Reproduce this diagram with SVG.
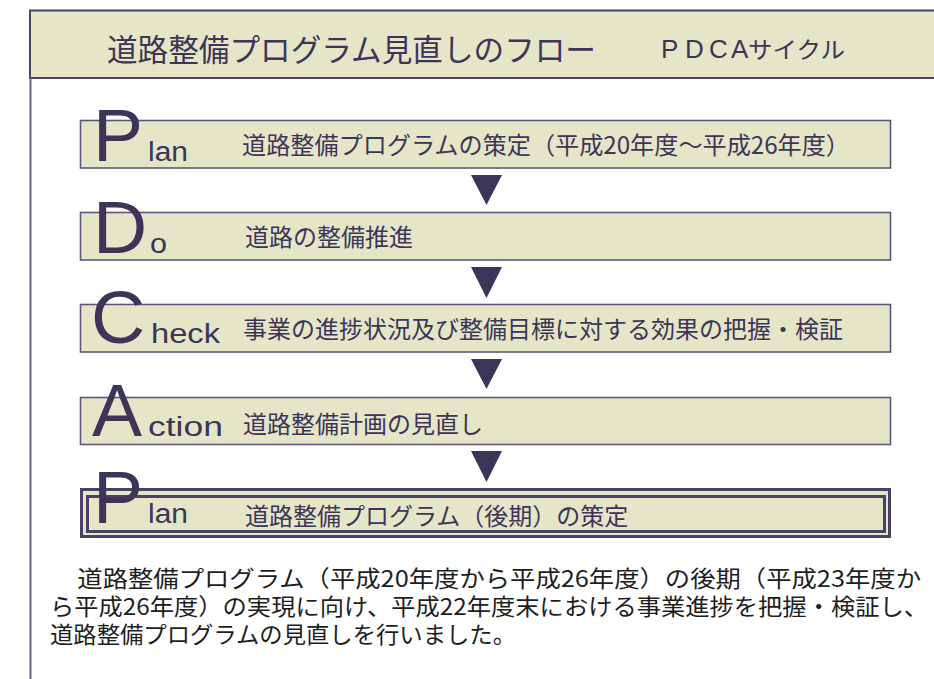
<svg xmlns="http://www.w3.org/2000/svg" width="934" height="679" viewBox="0 0 934 679">
<style>
.box{fill:#e5e5c8;stroke:#5e5878;stroke-width:1.6}
.tri{fill:#3d3558}
.big{font-family:"Liberation Sans",Arial,sans-serif;font-size:75px;fill:#3d3558}
.sm{font-family:"Liberation Sans",Arial,sans-serif;font-size:27px;fill:#3d3558}
.jp{font-family:"Noto Sans CJK JP","Noto Sans",sans-serif;font-size:24px;fill:#3d3558}
.para{font-family:"Noto Sans CJK JP","Noto Sans",sans-serif;font-size:23px;fill:#1e1e1e}
</style>
<rect width="934" height="679" fill="#ffffff"/>
<g id="frame">
<rect x="30" y="10.5" width="920" height="67.5" fill="#e5e5c8" stroke="#4a4264" stroke-width="2"/>
<line x1="30.5" y1="78" x2="30.5" y2="679" stroke="#6d6888" stroke-width="2"/>
<text x="107" y="61" font-family="'Noto Sans CJK JP',sans-serif" font-size="31" fill="#3d3558" textLength="489" lengthAdjust="spacingAndGlyphs">道路整備プログラム見直しのフロー</text>
<text y="58" font-family="'Liberation Sans','Noto Sans CJK JP',sans-serif" font-size="26" fill="#3d3558"><tspan x="661">P</tspan><tspan x="685">D</tspan><tspan x="709">C</tspan><tspan x="731">A</tspan><tspan x="748" font-family="'Noto Sans CJK JP',sans-serif" font-size="23" textLength="97" lengthAdjust="spacingAndGlyphs">サイクル</tspan></text>
</g>
<g id="connectors">
<polygon class="tri" points="471,175 502,175 486.5,205"/>
<polygon class="tri" points="471,267 502,267 486.5,298"/>
<polygon class="tri" points="471,359 502,359 486.5,389"/>
<polygon class="tri" points="471,451 502,451 486.5,482"/>
</g>
<g id="plan1">
<rect class="box" x="80.5" y="120.5" width="810" height="47.5"/>
<text class="big" x="93" y="161">P</text>
<text class="sm" x="148" y="161" textLength="40" lengthAdjust="spacingAndGlyphs">lan</text>
<text class="jp" x="242" y="154" textLength="608" lengthAdjust="spacingAndGlyphs">道路整備プログラムの策定（平成20年度～平成26年度）</text>
</g>
<g id="do">
<rect class="box" x="80.5" y="212.5" width="810" height="47.5"/>
<text class="big" x="93" y="253">D</text>
<text class="sm" x="150" y="253" textLength="17" lengthAdjust="spacingAndGlyphs">o</text>
<text class="jp" x="245" y="246">道路の整備推進</text>
</g>
<g id="check">
<rect class="box" x="80.5" y="304.5" width="810" height="47.5"/>
<text class="big" x="91" y="343">C</text>
<text class="sm" x="151" y="343" textLength="69" lengthAdjust="spacingAndGlyphs">heck</text>
<text class="jp" x="243" y="338" textLength="600" lengthAdjust="spacingAndGlyphs">事業の進捗状況及び整備目標に対する効果の把握・検証</text>
</g>
<g id="action">
<rect class="box" x="80.5" y="397.5" width="810" height="47"/>
<text class="big" x="92" y="436">A</text>
<text class="sm" x="148" y="436" textLength="75" lengthAdjust="spacingAndGlyphs">ction</text>
<text class="jp" x="243" y="433">道路整備計画の見直し</text>
</g>
<g id="plan2">
<rect x="81.5" y="489.5" width="808" height="47" fill="#e5e5c8" stroke="#4a4264" stroke-width="3"/>
<rect x="87.5" y="496.5" width="797" height="35" fill="none" stroke="#4a4264" stroke-width="3"/>
<text class="big" x="93" y="523">P</text>
<text class="sm" x="148" y="523" textLength="40" lengthAdjust="spacingAndGlyphs">lan</text>
<text class="jp" x="245" y="525">道路整備プログラム（後期）の策定</text>
</g>
<g id="paragraph">
<text class="para" x="52" y="587" textLength="869" lengthAdjust="spacingAndGlyphs">　道路整備プログラム（平成20年度から平成26年度）の後期（平成23年度か</text>
<text class="para" x="50" y="615" textLength="878" lengthAdjust="spacingAndGlyphs">ら平成26年度）の実現に向け、平成22年度末における事業進捗を把握・検証し、</text>
<text class="para" x="50" y="643" textLength="466" lengthAdjust="spacingAndGlyphs">道路整備プログラムの見直しを行いました。</text>
</g>
</svg>
